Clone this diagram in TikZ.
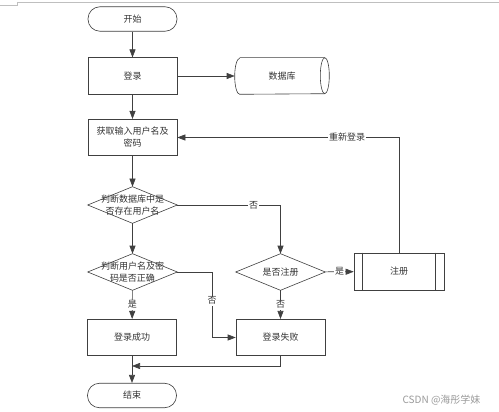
\documentclass[tikz,border=0pt]{standalone}
\usepackage{fontspec}
\newfontfamily\cjk{Noto Sans CJK SC}
\usetikzlibrary{arrows.meta,calc}
\definecolor{linec}{HTML}{404040}
\definecolor{textc}{HTML}{333333}
\definecolor{wmc}{HTML}{9A9A9A}
\tikzset{
  base/.style={line width=0.6pt, font=\cjk\fontsize{9}{12}\selectfont, text=textc, align=center, inner sep=0pt},
  proc/.style={base, draw=linec, rectangle, minimum width=89pt, minimum height=36.5pt},
  term/.style={base, draw=linec, rectangle, rounded corners=12pt, minimum width=89pt, minimum height=24.5pt},
  decbox/.style={base, rectangle, minimum width=89pt, minimum height=36pt},
  shp/.style={draw=linec, line width=0.6pt},
  arr/.style={draw=linec, line width=0.6pt, -{Triangle[length=8pt,width=6pt]}},
  lbl/.style={fill=white, font=\cjk\fontsize{9}{11}\selectfont, text=textc, inner sep=1pt}
}
\begin{document}
\begin{tikzpicture}[x=1pt,y=-1pt]
\useasboundingbox (0,0) rectangle (499,412);
\fill[white] (0,0) rectangle (499,412);
% page frame artefact
\draw[gray!50, line width=0.5pt] (0,5) -- (17,5) -- (17,2) -- (499,2);

% nodes
\node[term] (start) at (132.5,19) {开始};
\node[proc] (login) at (132.5,76) {登录};
\node[base, minimum width=94pt, minimum height=36pt] (db) at (282,76) {数据库};
\node[proc] (input) at (132.5,137.5) {获取输入用户名及\\密码};
\node[decbox] (d1) at (132.5,205) {};
\node[decbox] (d2) at (132.5,272) {};
\node[decbox] (d3) at (280.5,272) {};
\node[proc, minimum width=90pt, minimum height=37pt] (reg) at (399,271.5) {注册};
\node[proc] (ok) at (132,337.5) {登录成功};
\node[proc] (fail) at (280.5,337.5) {登录失败};
\node[term] (end) at (132,395.5) {结束};

% shapes drawn directly
\draw[shp] ($(db.north west)+(5,0)$) -- ($(db.north east)+(-4.5,0)$)
  arc[start angle=90, end angle=-90, x radius=4.5pt, y radius=18pt]
  -- ($(db.south west)+(5,0)$)
  arc[start angle=-90, end angle=-270, x radius=5pt, y radius=18pt];
\draw[shp] ($(db.north east)+(-4.5,0)$) arc[start angle=90, end angle=270, x radius=4.5pt, y radius=18pt];
\foreach \n in {d1,d2,d3}{
  \draw[shp] (\n.north) -- (\n.east) -- (\n.south) -- (\n.west) -- cycle;
}
\draw[shp] ($(reg.north west)+(9,0)$) -- ($(reg.south west)+(9,0)$);
\draw[shp] ($(reg.north east)+(-9,0)$) -- ($(reg.south east)+(-9,0)$);
% diamond texts above the outlines
\node[decbox] (t1) at (d1) {判断数据库中是\\否存在用户名};
\node[decbox] (t2) at (d2) {判断用户名及密\\码是否正确};
\node[decbox] (t3) at (d3) {是否注册};

% connectors
\coordinate (c1) at (212,272);
\coordinate (c3) at (132,366);
\draw[arr] (start) -- (login);
\draw[arr] (login) -- (db);
\draw[arr] (login) -- (input);
\draw[arr] (input) -- (d1);
\draw[arr] (d1) -- (d2);
\draw[arr] (d1.east) -| node[lbl, pos=0.37] {否} (d3.north);
\draw[arr] (d2) -- node[lbl] {是} (ok);
\draw[arr] (d2.east) -- (c1) |- node[lbl, pos=0.22] {否} (fail.west);
\draw[arr] (d3) -- node[lbl] {是} (reg);
\draw[arr] (d3) -- node[lbl] {否} (fail);
\draw[arr] (reg.north) |- node[lbl, pos=0.617] {重新登录} (input.east);
\draw[arr] (fail.south) |- (c3);
\draw[arr] (ok) -- (end);

% watermark
\node[font=\cjk\fontsize{10}{12}\selectfont, text=wmc, anchor=east] (wm) at (484,400) {CSDN @海彤学妹};
\end{tikzpicture}
\end{document}
